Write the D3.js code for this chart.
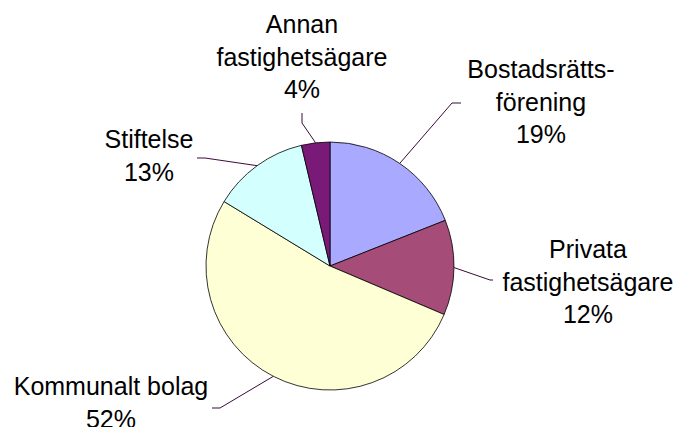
<!DOCTYPE html>
<html>
<head>
<meta charset="utf-8">
<script src="https://cdn.jsdelivr.net/npm/d3@7"></script>
<style>
  body { margin: 0; background: #fff; }
  svg { display: block; font-family: 'Liberation Sans', Arial, sans-serif; }
</style>
</head>
<body>
<div id="chartDiv1"></div>
<script>
// data (share of total, %)
const categories = ['Bostadsrättsförening', 'Privata fastighetsägare', 'Kommunalt bolag', 'Stiftelse', 'Annan fastighetsägare']
const shares = [19.0, 12.4, 52.3, 12.6, 3.7]
const labelLines = [
  ['Bostadsrätts-', 'förening'],
  ['Privata', 'fastighetsägare'],
  ['Kommunalt bolag'],
  ['Stiftelse'],
  ['Annan', 'fastighetsägare']
]
const colors = ['#a9a9ff', '#a64c79', '#ffffd6', '#d4ffff', '#7a1a78']

// label placement (x centre, first baseline) and leader elbows
const labelPos = [
  { x: 541, y: 78, elbow: [452, 103], end: [461, 103] },
  { x: 588, y: 258, elbow: [490, 280], end: [493, 280] },
  { x: 111, y: 395, elbow: [220, 408], end: [212, 408] },
  { x: 149, y: 148, elbow: [205, 158], end: [197, 158] },
  { x: 302, y: 33, elbow: [302, 123], end: [302, 113] }
]

const width = 677
const height = 427
const cx = 330
const cy = 266
const radius = 124
const lineH = 32.5

const svg = d3.select('#chartDiv1').append('svg')
  .attr('width', width)
  .attr('height', height)

const pie = d3.pie().sort(null).value(d => d)
const arcs = pie(shares)

const arc = d3.arc().innerRadius(0).outerRadius(radius)
const edgeArc = d3.arc().innerRadius(radius).outerRadius(radius)

const g = svg.append('g').attr('transform', `translate(${cx},${cy})`)

g.selectAll('path.slice')
  .data(arcs)
  .enter()
  .append('path')
  .attr('class', 'slice')
  .attr('d', arc)
  .attr('fill', (d, i) => colors[i])
  .attr('stroke', '#000')
  .attr('stroke-width', 0.8)

// leader lines from slice edge to the label
svg.selectAll('polyline.leader')
  .data(arcs)
  .enter()
  .append('polyline')
  .attr('class', 'leader')
  .attr('points', (d, i) => {
    const p = edgeArc.centroid(d)
    const l = labelPos[i]
    return [[p[0] + cx, p[1] + cy], l.elbow, l.end].map(q => q.join(',')).join(' ')
  })
  .attr('fill', 'none')
  .attr('stroke', '#3c0a3c')
  .attr('stroke-width', 1)

// labels
const labels = svg.selectAll('text.label')
  .data(arcs)
  .enter()
  .append('text')
  .attr('class', 'label')
  .attr('text-anchor', 'middle')
  .attr('font-size', 25)
  .attr('fill', '#000')

labels.each(function (d, i) {
  const t = d3.select(this)
  const lines = labelLines[i].concat([Math.round(d.data) + '%'])
  lines.forEach((s, k) => {
    t.append('tspan')
      .attr('x', labelPos[i].x)
      .attr('y', labelPos[i].y + k * lineH)
      .text(s)
  })
})
</script>
</body>
</html>
